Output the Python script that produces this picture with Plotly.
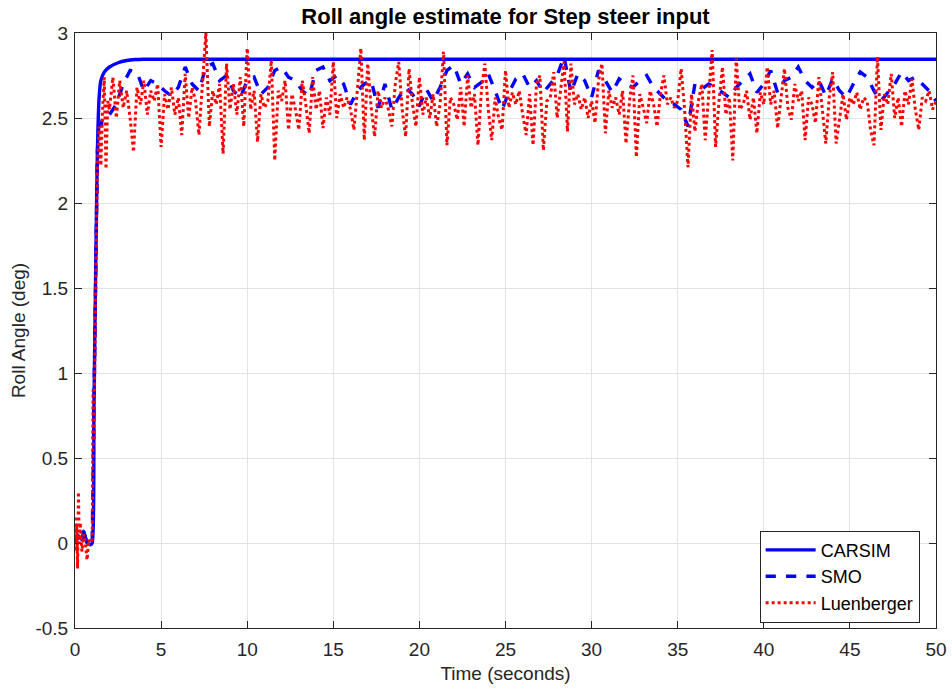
import numpy as np
import plotly.graph_objects as go

# ---------------- data ----------------
carsim_t = [0, 0.2, 0.4, 0.5, 0.7, 0.9, 1.0, 1.1, 1.2, 1.3, 1.4, 1.5, 1.7, 2.0, 2.5, 3.0, 3.5, 4.0, 50.0]
carsim_y = [0.0, 0.04, 0.02, 0.07, 0.0, -0.01, 0.0, 0.8, 1.6, 2.3, 2.62, 2.72, 2.77, 2.80, 2.825, 2.838, 2.844, 2.846, 2.846]

smo_t0 = [0, 0.2, 0.4, 0.5, 0.7, 0.9, 1.0, 1.1, 1.2, 1.3, 1.4, 1.5, 1.6, 1.8]
smo_y0 = [0.0, 0.04, 0.02, 0.07, 0.0, 0.0, 0.0, 0.8, 1.6, 2.3, 2.5, 2.45, 2.5, 2.52]
smo_step = 0.4
smo_y = [
    2.52, 2.58, 2.70, 2.78, 2.77, 2.66, 2.72, 2.70, 2.66, 2.63,
    2.68, 2.80, 2.70, 2.66, 2.80, 2.82, 2.72, 2.75, 2.66, 2.62,
    2.72, 2.74, 2.64, 2.68, 2.78, 2.80, 2.74, 2.72, 2.66, 2.63,
    2.78, 2.80, 2.72, 2.75, 2.70, 2.58, 2.66, 2.70, 2.72, 2.56,
    2.70, 2.55, 2.62, 2.68, 2.64, 2.57, 2.67, 2.60, 2.68, 2.78,
    2.81, 2.70, 2.76, 2.68, 2.71, 2.76, 2.66, 2.55, 2.65, 2.73,
    2.76, 2.68, 2.72, 2.65, 2.70, 2.75, 2.86, 2.65, 2.76, 2.72,
    2.62, 2.78, 2.72, 2.65, 2.73, 2.70, 2.68, 2.72, 2.75, 2.68,
    2.64, 2.60, 2.58, 2.55, 2.45, 2.70, 2.67, 2.70, 2.68, 2.65,
    2.62, 2.68, 2.72, 2.76, 2.65, 2.70, 2.78, 2.65, 2.72, 2.74,
    2.80, 2.72, 2.68, 2.72, 2.63, 2.73, 2.66, 2.62, 2.70, 2.77,
    2.74, 2.66, 2.60, 2.65, 2.70, 2.77, 2.72, 2.74, 2.70, 2.66,
    2.60,
]

luen_t0 = [0, 0.05, 0.1, 0.15, 0.2, 0.25, 0.3, 0.4, 0.5, 0.6, 0.7, 0.8, 0.9, 1.0,
           1.05, 1.1, 1.2, 1.3, 1.4, 1.5, 1.6, 1.7, 1.8, 1.9]
luen_y0 = [0.15, -0.05, 0.10, -0.15, 0.30, 0.0, 0.12, -0.05, 0.05, 0.0, -0.10, 0.02, 0.0, 0.02,
           0.9, 0.6, 1.5, 2.2, 2.45, 2.22, 2.55, 2.74, 2.20, 2.60]
luen_step = 0.2
luen_y = [
    2.55, 2.74, 2.50, 2.72, 2.56, 2.66, 2.50, 2.30, 2.68, 2.58,
    2.72, 2.52, 2.66, 2.60, 2.70, 2.33, 2.64, 2.55, 2.68, 2.52,
    2.62, 2.40, 2.76, 2.50, 2.68, 2.60, 2.40, 2.72, 3.00, 2.45,
    2.66, 2.58, 2.70, 2.29, 2.82, 2.55, 2.70, 2.52, 2.74, 2.45,
    2.91, 2.55, 2.66, 2.36, 2.64, 2.56, 2.60, 2.84, 2.25, 2.66,
    2.60, 2.72, 2.43, 2.64, 2.55, 2.43, 2.72, 2.58, 2.41, 2.74,
    2.55, 2.66, 2.44, 2.62, 2.52, 2.83, 2.50, 2.64, 2.56, 2.62,
    2.55, 2.43, 2.68, 2.91, 2.37, 2.82, 2.56, 2.39, 2.66, 2.56,
    2.62, 2.55, 2.45, 2.70, 2.83, 2.55, 2.39, 2.79, 2.58, 2.45,
    2.74, 2.52, 2.62, 2.50, 2.64, 2.45, 2.58, 2.89, 2.34, 2.62,
    2.58, 2.49, 2.68, 2.45, 2.75, 2.56, 2.64, 2.34, 2.66, 2.82,
    2.55, 2.37, 2.62, 2.50, 2.43, 2.78, 2.56, 2.65, 2.58, 2.66,
    2.52, 2.40, 2.64, 2.34, 2.70, 2.75, 2.31, 2.60, 2.62, 2.77,
    2.50, 2.66, 2.83, 2.42, 2.82, 2.58, 2.64, 2.55, 2.62, 2.50,
    2.60, 2.47, 2.72, 2.82, 2.41, 2.66, 2.56, 2.62, 2.52, 2.66,
    2.35, 2.60, 2.75, 2.27, 2.64, 2.56, 2.47, 2.66, 2.58, 2.45,
    2.64, 2.75, 2.58, 2.62, 2.56, 2.60, 2.79, 2.55, 2.21, 2.64,
    2.42, 2.60, 2.70, 2.37, 2.66, 2.90, 2.33, 2.60, 2.80, 2.52,
    2.62, 2.25, 2.85, 2.55, 2.58, 2.66, 2.49, 2.62, 2.41, 2.65,
    2.58, 2.80, 2.58, 2.66, 2.44, 2.62, 2.79, 2.56, 2.49, 2.70,
    2.60, 2.66, 2.37, 2.62, 2.58, 2.47, 2.74, 2.55, 2.35, 2.62,
    2.77, 2.35, 2.50, 2.64, 2.49, 2.62, 2.58, 2.65, 2.55, 2.62,
    2.60, 2.43, 2.34, 2.86, 2.43, 2.64, 2.58, 2.76, 2.50, 2.62,
    2.45, 2.66, 2.58, 2.73, 2.55, 2.43, 2.62, 2.60, 2.66, 2.55,
    2.60,
]

x_ticks = [0, 5, 10, 15, 20, 25, 30, 35, 40, 45, 50]
y_ticks = [-0.5, 0, 0.5, 1, 1.5, 2, 2.5, 3]
y_tick_text = ["-0.5", "0", "0.5", "1", "1.5", "2", "2.5", "3"]

# ---------------- assemble ----------------
smo_t = list(smo_t0) + [round(2.0 + i * smo_step, 2) for i in range(len(smo_y))]
smo_all = list(smo_y0) + smo_y
luen_t = list(luen_t0) + [round(2.0 + i * luen_step, 2) for i in range(len(luen_y))]
luen_all = list(luen_y0) + luen_y

FONT = "Arial, 'Liberation Sans', Helvetica, sans-serif"

fig = go.Figure()
fig.add_trace(go.Scatter(x=carsim_t, y=carsim_y, mode="lines", name="CARSIM",
                         line=dict(color="#0000FF", width=3.4, shape="spline", smoothing=0.6)))
fig.add_trace(go.Scatter(x=smo_t, y=smo_all, mode="lines", name="SMO",
                         line=dict(color="#0000FF", width=3.4, dash="dash")))
fig.add_trace(go.Scatter(x=luen_t, y=luen_all, mode="lines", name="Luenberger",
                         line=dict(color="#FF0000", width=3, dash="dot")))

axis_common = dict(
    showline=True, linecolor="#262626", linewidth=1, mirror="ticks",
    ticks="inside", ticklen=7, tickcolor="#262626", tickwidth=1,
    showgrid=True, gridcolor="#e3e3e3", gridwidth=1, zeroline=False,
    tickfont=dict(family=FONT, size=19, color="#262626"),
    automargin=False, ticklabeloverflow="allow",
)

fig.update_layout(
    width=952, height=689,
    paper_bgcolor="white", plot_bgcolor="white",
    margin=dict(l=75, r=16, t=33, b=61, autoexpand=False),
    font=dict(family=FONT, color="#262626"),
    title=dict(text="<b>Roll angle estimate for Step steer input</b>",
               x=0.5, xref="paper", xanchor="center",
               y=1 - 16 / 689, yref="container", yanchor="middle",
               font=dict(family=FONT, size=22, color="black")),
    xaxis=dict(range=[0, 50], tickvals=x_ticks, ticklabelstandoff=4,
               title=dict(text="Time (seconds)", font=dict(family=FONT, size=19, color="#262626"), standoff=7),
               **axis_common),
    yaxis=dict(range=[-0.5, 3], tickvals=y_ticks, ticktext=y_tick_text, ticklabelstandoff=2,
               title=dict(text="Roll Angle (deg)", font=dict(family=FONT, size=19, color="#262626"), standoff=4),
               **axis_common),
    legend=dict(x=0.981, y=0.009, xanchor="right", yanchor="bottom",
                bgcolor="white", bordercolor="#262626", borderwidth=1,
                font=dict(family=FONT, size=18, color="black"),
                tracegroupgap=0, itemwidth=50),
    showlegend=True,
)

fig.write_html("out.html")
